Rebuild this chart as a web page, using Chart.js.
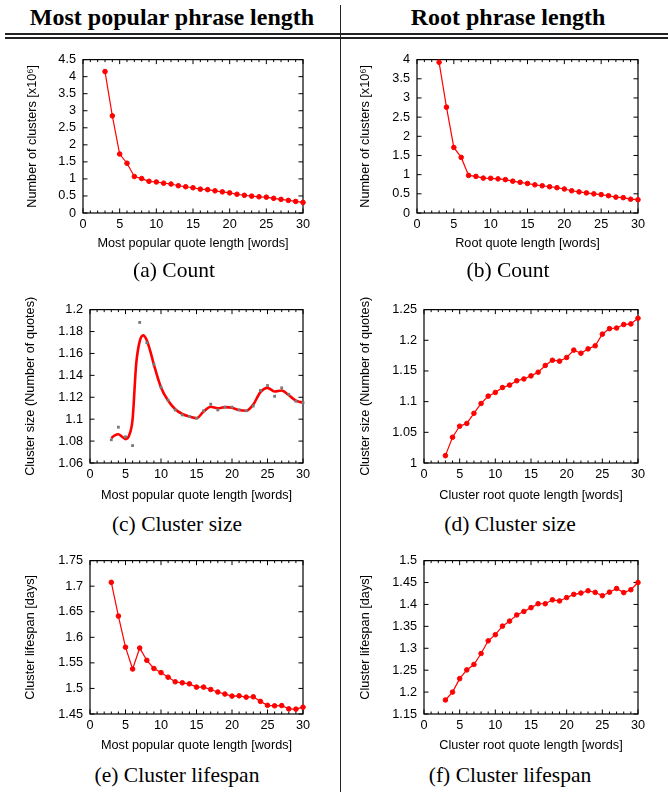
<!DOCTYPE html>
<html>
<head>
<meta charset="utf-8">
<script src="https://cdn.jsdelivr.net/npm/chart.js@4/dist/chart.umd.min.js"></script>
<style>
  html, body { margin: 0; padding: 0; background: #fff; }
  body { width: 668px; height: 792px; position: relative; overflow: hidden; }
  .cv { position: absolute; }
  .hdr { position: absolute; transform: translate(-50%, -50%); font-family: "Liberation Serif", "Times New Roman", serif; font-weight: bold; font-size: 24px; white-space: nowrap; color: #000; }
  .cap { position: absolute; transform: translate(-50%, -50%); font-family: "Liberation Serif", "Times New Roman", serif; font-size: 21.5px; white-space: nowrap; color: #000; }
  .hline { position: absolute; left: 5px; width: 663px; height: 1.5px; background: #222; }
  .vline { position: absolute; left: 340px; top: 5px; width: 1px; height: 787px; background: #222; }
</style>
</head>
<body>
<div class="hdr" style="left:172px; top:17px;">Most popular phrase length</div>
<div class="hdr" style="left:508px; top:17px;">Root phrase length</div>
<div class="hline" style="top:33px;"></div>
<div class="hline" style="top:37px;"></div>
<div class="vline"></div>

<canvas id="cA" class="cv" width="320" height="215" style="left:0px; top:45px;"></canvas>
<canvas id="cB" class="cv" width="327" height="215" style="left:341px; top:45px;"></canvas>
<canvas id="cC" class="cv" width="320" height="215" style="left:0px; top:295px;"></canvas>
<canvas id="cD" class="cv" width="327" height="215" style="left:341px; top:295px;"></canvas>
<canvas id="cE" class="cv" width="320" height="215" style="left:0px; top:546px;"></canvas>
<canvas id="cF" class="cv" width="327" height="215" style="left:341px; top:546px;"></canvas>

<div class="cap" style="left:174px; top:270px;">(a) Count</div>
<div class="cap" style="left:508px; top:270px;">(b) Count</div>
<div class="cap" style="left:177px; top:524px;">(c) Cluster size</div>
<div class="cap" style="left:510px; top:524px;">(d) Cluster size</div>
<div class="cap" style="left:177px; top:775px;">(e) Cluster lifespan</div>
<div class="cap" style="left:510px; top:775px;">(f) Cluster lifespan</div>

<script>
// ---------- data ----------
const lengths = [3,4,5,6,7,8,9,10,11,12,13,14,15,16,17,18,19,20,21,22,23,24,25,26,27,28,29,30];

const countMostPopular = [4.15,2.85,1.73,1.46,1.07,1.01,0.93,0.91,0.875,0.85,0.80,0.77,0.74,0.70,0.685,0.65,0.62,0.59,0.55,0.52,0.495,0.475,0.465,0.43,0.40,0.37,0.34,0.31];
const countRoot = [3.93,2.76,1.71,1.45,0.98,0.955,0.91,0.905,0.89,0.87,0.83,0.80,0.77,0.735,0.71,0.685,0.66,0.626,0.58,0.55,0.524,0.50,0.48,0.45,0.414,0.40,0.36,0.347];

const sizeMostPopular = [1.0812,1.0927,1.0839,1.0759,1.1883,1.1698,1.1501,1.1292,1.1173,1.1084,1.1039,1.1024,1.101,1.1077,1.1137,1.1084,1.111,1.111,1.1085,1.1077,1.112,1.1262,1.1307,1.1209,1.1286,1.1227,1.1164,1.115];
const smoothLengths = [3,3.5,4,4.5,5,5.5,6,6.5,7,7.5,8,8.5,9,10,11,12,13,14,15,16,17,18,19,20,21,22,23,24,25,26,27,28,29,30];
const sizeMostPopularSmooth = [1.0827,1.0853,1.0862,1.0841,1.0818,1.085,1.100,1.150,1.171,1.1765,1.172,1.1618,1.1498,1.129,1.117,1.109,1.1047,1.1024,1.1009,1.107,1.1114,1.110,1.111,1.1104,1.1083,1.1077,1.1134,1.1247,1.1286,1.1253,1.1262,1.1218,1.117,1.115];
const sizeRoot = [1.012,1.042,1.060,1.0645,1.081,1.097,1.109,1.115,1.123,1.127,1.134,1.137,1.142,1.148,1.159,1.1675,1.166,1.172,1.184,1.179,1.186,1.191,1.210,1.219,1.220,1.2257,1.2267,1.236];

const lifespanMostPopular = [1.7075,1.6415,1.5807,1.538,1.579,1.555,1.539,1.531,1.522,1.513,1.511,1.509,1.5026,1.5026,1.498,1.493,1.489,1.485,1.4855,1.483,1.4836,1.4747,1.467,1.466,1.4665,1.460,1.4595,1.4633];
const lifespanRoot = [1.182,1.200,1.2307,1.2506,1.263,1.288,1.317,1.331,1.3505,1.362,1.376,1.384,1.3927,1.4016,1.4016,1.4105,1.408,1.4157,1.423,1.426,1.4312,1.4275,1.420,1.428,1.4364,1.427,1.4335,1.450];

// ---------- tick labels ----------
const xTicks = [0,5,10,15,20,25,30];
const yTicksCountA = [0,0.5,1,1.5,2,2.5,3,3.5,4,4.5];
const yTicksCountB = [0,0.5,1,1.5,2,2.5,3,3.5,4];
const yTicksSizeC = [1.06,1.08,1.1,1.12,1.14,1.16,1.18,1.2];
const yTicksSizeD = [1,1.05,1.1,1.15,1.2,1.25];
const yTicksLifeE = [1.45,1.5,1.55,1.6,1.65,1.7,1.75];
const yTicksLifeF = [1.15,1.2,1.25,1.3,1.35,1.4,1.45,1.5];

// ---------- styling ----------
const FONT = { family: '"Liberation Sans", Arial, sans-serif', size: 12.7 };
Chart.defaults.font.family = FONT.family;
Chart.defaults.color = '#000';

const frameTicks = {
  id: 'frameTicks',
  beforeDatasetsDraw(chart) {
    const { ctx, chartArea: a, scales: { x, y } } = chart;
    ctx.save();
    ctx.strokeStyle = '#000';
    ctx.lineWidth = 1.2;
    ctx.strokeRect(a.left, a.top, a.right - a.left, a.bottom - a.top);
    ctx.lineWidth = 1;
    ctx.beginPath();
    for (let v = Math.ceil(x.min); v <= x.max; v++) {
      const px = x.getPixelForValue(v);
      const len = (v % 5 === 0) ? 4.5 : 2.5;
      ctx.moveTo(px, a.bottom); ctx.lineTo(px, a.bottom - len);
      ctx.moveTo(px, a.top); ctx.lineTo(px, a.top + len);
    }
    y.ticks.forEach(t => {
      const py = y.getPixelForValue(t.value);
      ctx.moveTo(a.left, py); ctx.lineTo(a.left + 4.5, py);
      ctx.moveTo(a.right, py); ctx.lineTo(a.right - 4.5, py);
    });
    ctx.stroke();
    ctx.restore();
  }
};

function fmt(v) { return String(+Number(v).toFixed(3)); }

function redSeries(xs, ys) {
  return {
    data: xs.map((x, i) => ({ x, y: ys[i] })),
    borderColor: '#ff0000',
    backgroundColor: '#ff0000',
    borderWidth: 1.2,
    pointRadius: 2.3,
    pointBorderWidth: 1,
    pointBorderColor: '#ff0000',
    pointBackgroundColor: '#ff0000',
    tension: 0,
    clip: false
  };
}

function makeChart(id, opts) {
  const yTicks = opts.yTicks;
  new Chart(document.getElementById(id), {
    type: 'line',
    data: { datasets: opts.datasets },
    options: {
      responsive: false,
      animation: false,
      devicePixelRatio: 1,
      layout: { padding: { left: 0, right: opts.padRight, top: 10, bottom: 0 } },
      plugins: { legend: { display: false }, tooltip: { enabled: false } },
      scales: {
        x: {
          type: 'linear',
          min: xTicks[0], max: xTicks[xTicks.length - 1],
          afterBuildTicks: s => { s.ticks = xTicks.map(v => ({ value: v })); },
          afterFit: s => { s.height = 47; },
          grid: { display: false, drawTicks: false },
          border: { display: false },
          ticks: { font: FONT, color: '#000', padding: 3.5, maxRotation: 0, autoSkip: false, callback: fmt },
          title: { display: true, text: opts.xTitle, font: FONT, color: '#000', padding: { top: 0, bottom: opts.xTitlePad } }
        },
        y: {
          type: 'linear',
          min: yTicks[0], max: yTicks[yTicks.length - 1],
          afterBuildTicks: s => { s.ticks = yTicks.map(v => ({ value: v })); },
          afterFit: s => { s.width = opts.yWidth; },
          grid: { display: false, drawTicks: false },
          border: { display: false },
          ticks: { font: FONT, color: '#000', padding: 7, autoSkip: false, callback: fmt },
          title: { display: true, text: opts.yTitle, font: FONT, color: '#000', padding: { top: opts.yTitlePad, bottom: 0 } }
        }
      }
    },
    plugins: [frameTicks]
  });
}

// (a)
makeChart('cA', {
  datasets: [redSeries(lengths, countMostPopular)],
  yTicks: yTicksCountA, yWidth: 83, padRight: 17,
  xTitle: 'Most popular quote length [words]', xTitlePad: 8.5,
  yTitle: 'Number of clusters [x10\u2076]', yTitlePad: 24.5
});
// (b)
makeChart('cB', {
  datasets: [redSeries(lengths, countRoot)],
  yTicks: yTicksCountB, yWidth: 76, padRight: 30,
  xTitle: 'Root quote length [words]', xTitlePad: 8.5,
  yTitle: 'Number of clusters [x10\u2076]', yTitlePad: 17
});
// (c)
makeChart('cC', {
  datasets: [
    {
      data: lengths.map((x, i) => ({ x, y: sizeMostPopular[i] })),
      showLine: false,
      pointStyle: 'rect',
      pointRadius: 2,
      pointBorderWidth: 0,
      pointBackgroundColor: '#7a7a7a',
      pointBorderColor: '#7a7a7a',
      order: 0,
      clip: false
    },
    {
      data: smoothLengths.map((x, i) => ({ x, y: sizeMostPopularSmooth[i] })),
      borderColor: '#ff0000',
      borderWidth: 2.6,
      pointRadius: 0,
      cubicInterpolationMode: 'monotone',
      order: 1
    }
  ],
  yTicks: yTicksSizeC, yWidth: 90, padRight: 17,
  xTitle: 'Most popular quote length [words]', xTitlePad: 6.5,
  yTitle: 'Cluster size (Number of quotes)', yTitlePad: 23
});
// (d)
makeChart('cD', {
  datasets: [redSeries(lengths, sizeRoot)],
  yTicks: yTicksSizeD, yWidth: 83, padRight: 30,
  xTitle: 'Cluster root quote length [words]', xTitlePad: 6.5,
  yTitle: 'Cluster size (Number of quotes)', yTitlePad: 17
});
// (e)
makeChart('cE', {
  datasets: [redSeries(lengths, lifespanMostPopular)],
  yTicks: yTicksLifeE, yWidth: 90, padRight: 17,
  xTitle: 'Most popular quote length [words]', xTitlePad: 7.5,
  yTitle: 'Cluster lifespan [days]', yTitlePad: 22.5
});
// (f)
makeChart('cF', {
  datasets: [redSeries(lengths, lifespanRoot)],
  yTicks: yTicksLifeF, yWidth: 83, padRight: 30,
  xTitle: 'Cluster root quote length [words]', xTitlePad: 7.5,
  yTitle: 'Cluster lifespan [days]', yTitlePad: 17
});
</script>
</body>
</html>
